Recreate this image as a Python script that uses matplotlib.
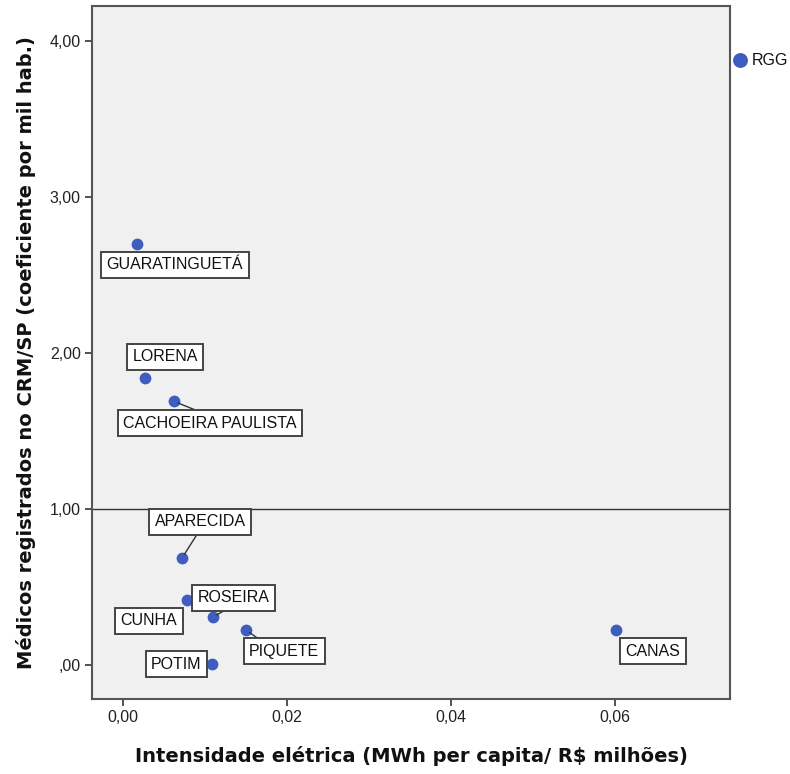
import matplotlib.pyplot as plt

# ---------------------------------------------------------------------
# Data
# ---------------------------------------------------------------------
cities = ["GUARATINGUETÁ", "LORENA", "CACHOEIRA PAULISTA", "APARECIDA",
          "CUNHA", "ROSEIRA", "PIQUETE", "POTIM", "CANAS"]
intensity = [0.0017, 0.0027, 0.0062, 0.0072, 0.0078, 0.0110, 0.0150, 0.0109, 0.0601]
doctors = [2.70, 1.84, 1.69, 0.686, 0.417, 0.308, 0.224, 0.006, 0.224]

rgg_x = 0.0752
rgg_y = 3.878

x_ticks = [0.00, 0.02, 0.04, 0.06]
x_tick_labels = ["0,00", "0,02", "0,04", "0,06"]
y_ticks = [0.0, 1.0, 2.0, 3.0, 4.0]
y_tick_labels = [",00", "1,00", "2,00", "3,00", "4,00"]
ref_y = 1.0

# label placement: offset in pixels of the box centre, optional leader relpos
label_offsets = {
    "GUARATINGUETÁ": (38, -21, None),
    "LORENA": (20, 21, None),
    "CACHOEIRA PAULISTA": (36, -22, (0.5, 1.0)),
    "APARECIDA": (18, 36, (0.5, 0.0)),
    "CUNHA": (-38, -21, None),
    "ROSEIRA": (20, 19, (0.5, 0.0)),
    "PIQUETE": (38, -21, (0.23, 1.0)),
    "POTIM": (-36, 0, None),
    "CANAS": (37, -21, None),
}

BLUE = "#3F5CBF"

fig = plt.figure(figsize=(7.9, 7.74), dpi=100)
ax = fig.add_axes([0.1165, 0.0969, 0.8076, 0.8953])
ax.set_facecolor("#F0F0F0")

ax.scatter(intensity, doctors, s=72, color=BLUE, zorder=3, linewidths=0)
ax.scatter([rgg_x], [rgg_y], s=115, color=BLUE, zorder=3, linewidths=0,
           clip_on=False)

ax.axhline(ref_y, color="#333333", lw=1.0, zorder=1)

for name, x, y in zip(cities, intensity, doctors):
    dx, dy, rel = label_offsets[name]
    kw = {}
    if rel is not None:
        kw["arrowprops"] = dict(arrowstyle="-", color="#333333", lw=1.0,
                                relpos=rel, patchA=None, shrinkA=0, shrinkB=3)
    ax.annotate(name, xy=(x, y), xytext=(dx, dy), textcoords="offset pixels",
                ha="center", va="center", fontsize=11.5,
                family="Liberation Sans", color="#111111", zorder=4,
                bbox=dict(boxstyle="square,pad=0.34", fc="white",
                          ec="#444444", lw=1.4),
                **kw)

ax.annotate("RGG", xy=(rgg_x, rgg_y), xytext=(12, 0),
            textcoords="offset pixels", ha="left", va="center",
            fontsize=11.5, family="Liberation Sans", color="#111111",
            annotation_clip=False)

ax.set_xlim(-0.00378, 0.0740)
ax.set_ylim(-0.218, 4.224)

ax.set_xticks(x_ticks)
ax.set_xticklabels(x_tick_labels, family="Liberation Sans", fontsize=11.5)
ax.set_yticks(y_ticks)
ax.set_yticklabels(y_tick_labels, family="Liberation Sans", fontsize=11.5)
ax.tick_params(direction="out", length=5, width=1.2, color="#333333",
               labelcolor="#222222", pad=3)

for sp in ax.spines.values():
    sp.set_color("#555555")
    sp.set_linewidth(1.5)

ax.set_xlabel("Intensidade elétrica (MWh per capita/ R$ milhões)",
              fontsize=14, fontweight="bold", labelpad=15, color="#111111")
ax.set_ylabel("Médicos registrados no CRM/SP (coeficiente por mil hab.)",
              fontsize=14, fontweight="bold", labelpad=10, color="#111111")

plt.savefig("out.png", dpi=100)
plt.close(fig)
